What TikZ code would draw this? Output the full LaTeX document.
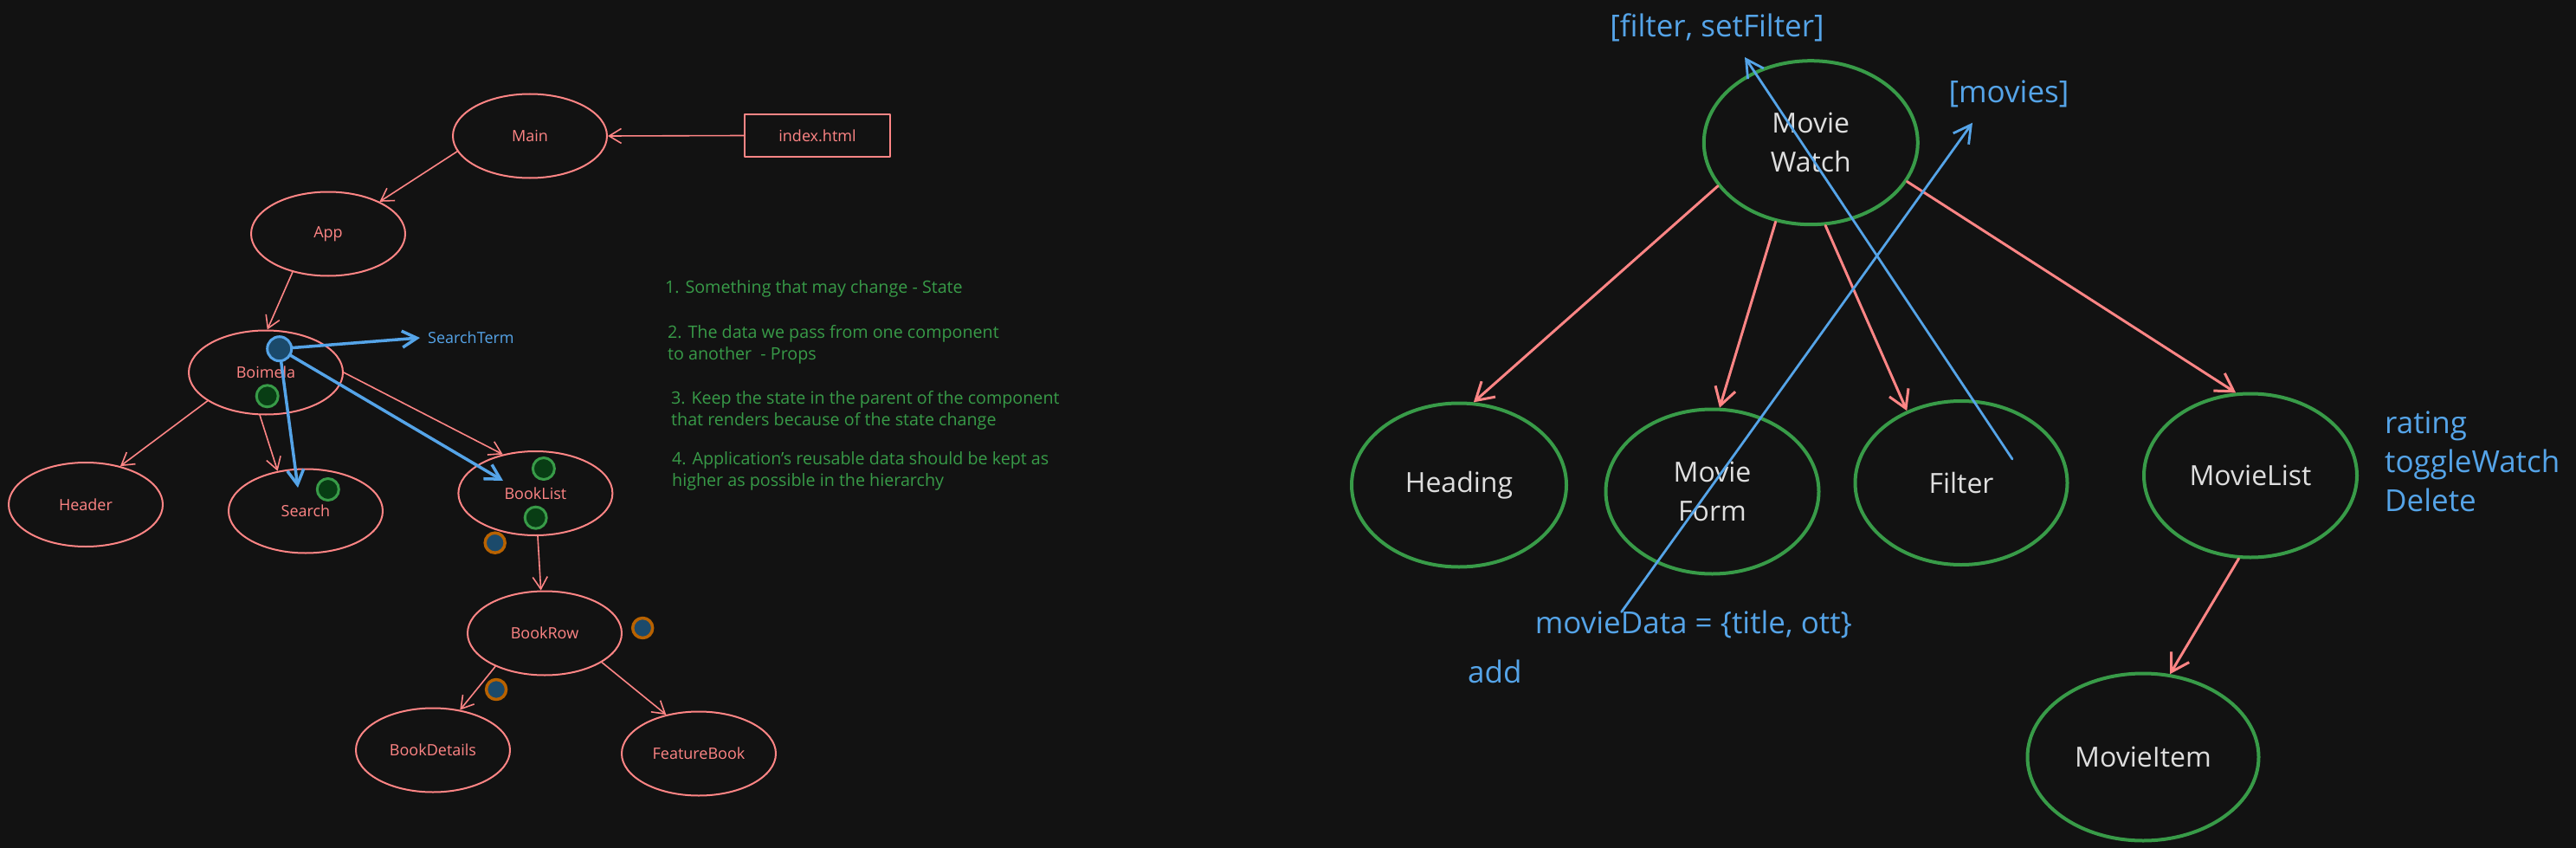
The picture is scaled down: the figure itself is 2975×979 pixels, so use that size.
\documentclass[tikz,border=0pt]{standalone}
\usepackage{fontspec}
\setmainfont{Open Sans}
\usetikzlibrary{shapes.geometric,arrows.meta}
\definecolor{bg}{HTML}{121212}
\definecolor{pinkc}{HTML}{FF8585}
\definecolor{grn}{HTML}{389B48}
\definecolor{blu}{HTML}{55A4E8}
\definecolor{wht}{HTML}{DEDEDE}
\definecolor{dkblu}{HTML}{1B4A6B}
\definecolor{dkgrn}{HTML}{083D14}
\definecolor{orng}{HTML}{B86200}
\begin{document}
\begin{tikzpicture}[x=1pt,y=-1pt,line cap=round,line join=round,
  lnode/.style={ellipse,draw=pinkc,line width=2pt,text=pinkc,inner sep=0pt,
    minimum width=178pt,minimum height=97pt,font=\fontsize{18}{22}\selectfont},
  rnode/.style={ellipse,draw=grn,line width=4pt,text=wht,inner sep=0pt,align=center,
    minimum width=246pt,minimum height=189pt,font=\fontsize{32}{45}\selectfont},
  larrow/.style={draw=pinkc,line width=1.6pt,-{Straight Barb[length=14pt,width=17pt,line width=1.6pt]}},
  rarrow/.style={draw=pinkc,line width=3pt,-{Straight Barb[length=20pt,width=24pt,line width=3pt]}},
  lbarrow/.style={draw=blu,line width=3.5pt,-{Straight Barb[length=17pt,width=19pt,line width=3.5pt]}},
  rbarrow/.style={draw=blu,line width=2.8pt,-{Straight Barb[length=20pt,width=22pt,line width=2.8pt]}},
  gdot/.style={circle,draw=grn,line width=3pt,fill=dkgrn,minimum size=25pt,inner sep=0pt},
  odot/.style={circle,draw=orng,line width=3.5pt,fill=dkblu,minimum size=23pt,inner sep=0pt},
  bdot/.style={circle,draw=blu,line width=3pt,fill=dkblu,minimum size=28pt,inner sep=0pt},
  gtext/.style={text=grn,anchor=west,inner sep=0pt,align=left,font=\fontsize{19.7}{25}\selectfont},
  btext/.style={text=blu,inner sep=0pt,font=\fontsize{35}{45}\selectfont},
]
\useasboundingbox (0,0) rectangle (2975,979);
\fill[bg] (0,0) rectangle (2975,979);

% ---------- left diagram ----------
\node[lnode] (main) at (612,157) {Main};
\node[draw=pinkc,line width=2pt,text=pinkc,minimum width=168pt,minimum height=49pt,
  font=\fontsize{18}{22}\selectfont] (idx) at (944,156.5) {index.html};
\node[lnode] (app) at (379,270) {App};
\node[lnode] (boimela) at (307,430) {Boimela};
\node[lnode] (header) at (99,582.5) {Header};
\node[lnode] (search) at (353,590) {Search};
\node[lnode] (booklist) at (618.4,569.5) {BookList};
\node[lnode] (bookrow) at (629,731) {BookRow};
\node[lnode] (bookdetails) at (500,866) {BookDetails};
\node[lnode] (featurebook) at (807,870) {FeatureBook};

\node[gdot] (g1) at (308.7,457.3) {};
\node[gdot] (g2) at (378.8,565) {};
\node[gdot] (g3) at (627.9,541) {};
\node[gdot] (g4) at (618.7,597.7) {};
\node[odot] (o1) at (571.7,626.7) {};
\node[odot] (o2) at (742.2,725) {};
\node[odot] (o3) at (573.1,796) {};

\draw[larrow] (idx.west) -- (main.east);
\draw[larrow] (main.192) -- (app.32);
\draw[larrow] (app.227) -- (boimela.88);
\draw[larrow] (boimela.206) -- (header.48);
\draw[larrow] (boimela.262) -- (search.125);
\draw[larrow] (boimela.0) -- (booklist.130);
\draw[larrow] (booklist.273) -- (bookrow.95);
\draw[larrow] (bookrow.214) -- (bookdetails.56);
\draw[larrow] (bookrow.333) -- (featurebook.130);

\node[text=blu,anchor=west,inner sep=0pt,font=\fontsize{18}{22}\selectfont] (searchterm) at (494,390) {SearchTerm};
\coordinate (srchtip) at (344,563);
\coordinate (bltip) at (581,555);
\node[bdot] (bstate) at (322.7,402.7) {};
\draw[lbarrow] (bstate) -- ([xshift=-9pt]searchterm.west);
\draw[lbarrow] (bstate) -- (srchtip);
\draw[lbarrow] (bstate) -- (bltip);

\node[gtext] (t1) at (768,333.3) {1. Something that may change - State};
\node[gtext] (t2) at (771,398.2) {2. The data we pass from one component\\to another \ - Props};
\node[gtext] (t3) at (775,474.2) {3. Keep the state in the parent of the component\\that renders because of the state change};
\node[gtext] (t4) at (776,544.2) {4. Application's reusable data should be kept as\\higher as possible in the hierarchy};

% ---------- right diagram ----------
\node[rnode,minimum width=247pt,minimum height=189pt] (mw) at (2091.3,164.7) {Movie\\Watch};
\node[rnode,minimum width=248pt] (heading) at (1685,560) {Heading};
\node[rnode,minimum height=190pt] (movieform) at (1977.5,567.5) {Movie\\Form};
\node[rnode,minimum width=245pt] (filter) at (2265,557.5) {Filter};
\node[rnode] (movielist) at (2599,549) {MovieList};
\node[rnode,minimum width=267pt,minimum height=193pt] (movieitem) at (2475,874) {MovieItem};

\draw[rarrow] (mw.205) -- (heading.80);
\draw[rarrow] (mw.246) -- (movieform.85);
\draw[rarrow] (mw.280) -- (filter.127);
\draw[rarrow] (mw.338) -- (movielist.100);
\draw[rarrow] (movielist.262) -- (movieitem.72);

\node[btext] (filterlbl) at (1983,32) {[filter, setFilter]};
\node[btext] (movieslbl) at (2320,108) {[movies]};
\node[btext,anchor=west,align=left] (mlprops) at (2754,533) {rating\\toggleWatch\\Delete};
\node[btext,anchor=west] (moviedata) at (1772.6,720.5) {movieData = \{title, ott\}};
\node[btext,anchor=west] (addlbl) at (1695,775) {add};

\coordinate (fsrc) at (2324,530);
\coordinate (ftip) at (2015,66);
\coordinate (msrc) at (1872.6,706.5);
\coordinate (mtip) at (2278,141.7);
\draw[rbarrow] (fsrc) -- (ftip);
\draw[rbarrow] (msrc) -- (mtip);
\end{tikzpicture}
\end{document}
